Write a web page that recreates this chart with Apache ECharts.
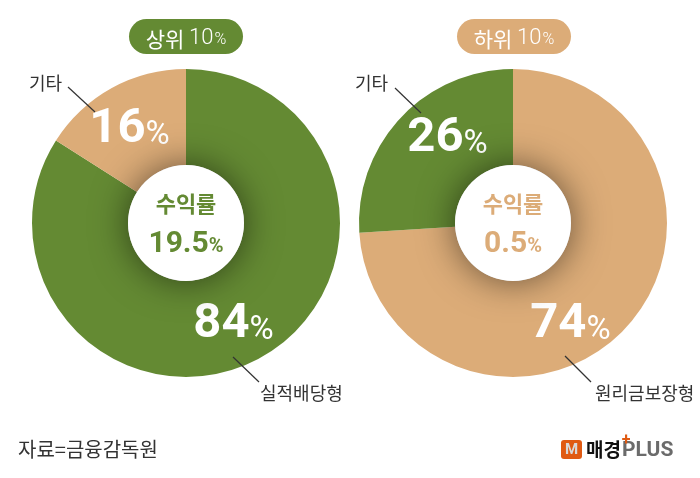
<!DOCTYPE html>
<html>
<head>
<meta charset="utf-8">
<script src="https://cdn.jsdelivr.net/npm/echarts@6/dist/echarts.min.js"></script>
<style>
  html, body { margin: 0; padding: 0; background: #fff; }
  #chart { width: 700px; height: 478px; }
</style>
</head>
<body>
<div id="chart"></div>
<script>
// data
const groups = ['상위 10%', '하위 10%'];
const topNames = ['실적배당형', '기타'];
const topValues = [84, 16];
const bottomNames = ['원리금보장형', '기타'];
const bottomValues = [74, 26];
const returnLabel = '수익률';
const returns = [19.5, 0.5];
const source = '자료=금융감독원';

const GREEN = '#648a33';
const TAN = '#dcac78';
const FONT = 'Noto Sans CJK KR';
const NUM = 'Roboto';

const chart = echarts.init(document.getElementById('chart'), null, { renderer: 'canvas' });

// shift of the inside labels from their default spot
const labelShift = [
  [[-5, 6], [-4, 2]],
  [[-22, 27], [14, -10]]
];

function ring(names, values, colors, center, idx) {
  return {
    type: 'pie',
    center: center,
    radius: [58, 154],
    startAngle: 90,
    clockwise: true,
    silent: true,
    z: 2,
    label: {
      show: true,
      position: 'inside',
      formatter: p => '{v|' + p.value + '}{p|%}',
      rich: {
        v: { fontFamily: NUM, fontSize: 49, fontWeight: 'bold', color: '#fff', lineHeight: 50, verticalAlign: 'bottom' },
        p: { fontFamily: NUM, fontSize: 33, color: '#fff', lineHeight: 36, verticalAlign: 'bottom', padding: [0, 0, 2, 0] }
      }
    },
    labelLine: { show: false },
    labelLayout: p => ({ dx: labelShift[idx][p.dataIndex][0], dy: labelShift[idx][p.dataIndex][1] }),
    emphasis: { disabled: true },
    data: names.map((n, i) => ({ name: n, value: values[i], itemStyle: { color: colors[i] } }))
  };
}

function hub(value, color, center) {
  return {
    type: 'pie',
    center: center,
    radius: [0, 58],
    silent: true,
    z: 3,
    itemStyle: { color: '#fff', shadowBlur: 36, shadowColor: 'rgba(0,0,0,0.55)' },
    label: {
      show: true,
      position: 'center',
      formatter: () => '{a|' + returnLabel + '}\n{b|' + value + '}{c|%}',
      rich: {
        a: { fontFamily: FONT, fontSize: 22, fontWeight: 'bold', color: color, lineHeight: 36, padding: [0, 0, 2, 0] },
        b: { fontFamily: NUM, fontSize: 30, fontWeight: 'bold', color: color, lineHeight: 36, verticalAlign: 'bottom' },
        c: { fontFamily: NUM, fontSize: 20, fontWeight: 'bold', color: color, lineHeight: 30, verticalAlign: 'bottom', padding: [0, 0, 2, 0] }
      }
    },
    labelLine: { show: false },
    emphasis: { disabled: true },
    data: [{ value: 1, name: 'hub' }]
  };
}

function pill(label, color, cx) {
  const parts = label.split(' ');
  return [
    { type: 'rect', shape: { x: cx - 57, y: 19, width: 114, height: 35, r: 17.5 }, style: { fill: color }, z: 10 },
    {
      type: 'text', x: cx, y: 37, z: 11,
      style: {
        text: '{a|' + parts[0] + ' }{n|' + parts[1].replace('%', '') + '}{b|%}',
        align: 'center', verticalAlign: 'middle',
        rich: {
          a: { fontFamily: FONT, fontSize: 21, fill: '#fff', lineHeight: 26, verticalAlign: 'bottom' },
          n: { fontFamily: NUM, fontSize: 22, fontWeight: 300, fill: '#fff', lineHeight: 26, verticalAlign: 'bottom', padding: [0, 0, 1, 0] },
          b: { fontFamily: NUM, fontSize: 16, fontWeight: 300, fill: '#fff', lineHeight: 22, verticalAlign: 'bottom', padding: [0, 0, 2, 1] }
        }
      }
    }
  ];
}

function callout(text, tx, ty, align, line) {
  return [
    { type: 'line', shape: { x1: line[0], y1: line[1], x2: line[2], y2: line[3] }, style: { stroke: '#333', lineWidth: 1.2 }, z: 10 },
    { type: 'text', x: tx, y: ty, z: 10, style: { text: text, fontFamily: FONT, fontSize: 18, fill: '#333', align: align, verticalAlign: 'middle' } }
  ];
}

const graphics = [].concat(
  pill(groups[0], GREEN, 186),
  pill(groups[1], TAN, 514),
  callout(topNames[1], 62, 83, 'right', [68, 87, 95, 112]),
  callout(topNames[0], 260, 393, 'left', [233, 357, 259, 382]),
  callout(bottomNames[1], 388, 83, 'right', [395, 88, 421, 113]),
  callout(bottomNames[0], 595, 393, 'left', [565, 356, 591, 382]),
  [
    { type: 'text', x: 18, y: 449, style: { text: source, fontFamily: FONT, fontSize: 20, fill: '#333', verticalAlign: 'middle' } },
    // logo
    { type: 'rect', shape: { x: 561, y: 440, width: 21, height: 19, r: 3 }, style: { fill: '#e05a12' } },
    { type: 'text', x: 571.5, y: 450, style: { text: 'M', fontFamily: NUM, fontWeight: 'bold', fontSize: 15, fill: '#d9d9d9', align: 'center', verticalAlign: 'middle' } },
    { type: 'text', x: 586, y: 450, style: { text: '매경', fontFamily: FONT, fontWeight: 'bold', fontSize: 19, fill: '#111', verticalAlign: 'middle' } },
    { type: 'text', x: 622, y: 451, style: { text: 'PLUS', fontFamily: NUM, fontWeight: 'bold', fontSize: 21, fill: '#6b6b6b', verticalAlign: 'middle' } },
    { type: 'text', x: 626, y: 441, z: 12, style: { text: '+', fontFamily: NUM, fontWeight: 'bold', fontSize: 16, fill: '#e05a12', align: 'center', verticalAlign: 'middle' } }
  ]
);

const option = {
  backgroundColor: '#fff',
  animation: false,
  series: [
    ring(topNames, topValues, [GREEN, TAN], [186, 223], 0),
    hub(returns[0], GREEN, [186, 223]),
    ring(bottomNames, bottomValues, [TAN, GREEN], [513, 223], 1),
    hub(returns[1], TAN, [513, 223])
  ],
  graphic: graphics
};

chart.setOption(option);
</script>
</body>
</html>
